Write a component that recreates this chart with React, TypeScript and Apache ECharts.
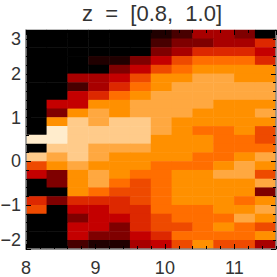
import React, { useEffect, useRef } from "react";
import * as echarts from "echarts";

const titleText = "z  =  [0.8,  1.0]";
const xBins = ["8.0","8.3","8.6","8.9","9.2","9.5","9.8","10.1","10.4","10.7","11.0","11.3"];
const yBins = Array.from({ length: 25 }, (_, i) => (2.8 - i * 0.2).toFixed(1));
const palette = ["#000000","#200000","#480000","#7f0000","#a80000","#c40000","#dd2800","#ee4a00","#ff6e00","#ff9000","#ffa840","#ffcb8a","#ffeccc"];
const yLabels: Record<string, string> = { "-2": "\u22122", "-1": "\u22121", "0": "0", "1": "1", "2": "2", "3": "3" };

// colour level per cell, top row first
const levels = [
  [0,0,0,0,0,0,1,2,4,4,3,0],
  [0,0,0,0,0,0,2,3,3,4,4,6],
  [0,0,0,0,0,0,3,4,6,6,6,5],
  [0,0,0,1,1,3,5,7,8,8,8,6],
  [0,0,0,0,3,5,7,8,9,9,9,9],
  [0,0,4,4,5,7,9,9,10,10,9,9],
  [0,0,2,4,6,8,9,10,10,10,10,10],
  [0,0,5,6,8,9,10,10,10,10,10,10],
  [0,5,5,9,9,10,10,10,10,9,9,9],
  [0,3,9,10,9,10,10,10,9,9,9,10],
  [0,9,11,10,11,11,10,9,9,9,9,9],
  [0,12,11,11,11,11,10,9,8,8,9,7],
  [12,12,11,11,11,11,9,9,9,8,8,7],
  [0,11,11,10,10,10,9,9,9,8,8,8],
  [11,10,11,10,9,9,9,9,8,8,9,10],
  [7,9,10,9,9,9,8,8,8,9,10,9],
  [5,3,9,10,9,8,8,9,9,10,10,7],
  [0,3,9,10,8,7,8,9,9,9,9,10],
  [0,0,9,8,7,7,8,9,9,9,9,3],
  [6,3,6,6,6,7,8,9,9,9,8,9],
  [7,0,5,5,6,6,8,8,8,9,9,10],
  [0,0,3,5,5,6,7,8,8,8,10,9],
  [0,0,5,5,3,6,7,7,8,9,8,7],
  [0,0,5,3,3,5,6,8,8,8,8,9],
  [0,0,2,1,1,4,5,7,9,7,7,4],
];

const font = "'Liberation Sans', sans-serif";
const ink = "#333333";
const edge = "#888888";

export default function App() {
  const ref = useRef<HTMLDivElement>(null);
  useEffect(() => {
    const chart = echarts.init(ref.current!, null, { renderer: "svg" });
    const data: number[][] = [];
    levels.forEach((row, r) => row.forEach((v, c) => data.push([c, 24 - r, v])));
    const xRange = { type: "value", min: 8, max: 11.6, z: 5 };
    const hidden = { show: false };
    const tick = (length: number) => ({ show: true, inside: true, length, lineStyle: { color: "#000", width: 1 } });
    const line = { show: true, onZero: false, lineStyle: { color: edge, width: 1.5 } };
    const yAxisBase = {
      type: "value", min: -2, max: 3, interval: 1, z: 5, splitLine: hidden,
      axisLine: line, axisTick: tick(5),
      minorTick: { show: true, splitNumber: 5, length: 3, lineStyle: { color: "#000", width: 1 } },
    };
    chart.setOption({
      animation: false,
      title: {
        text: titleText, left: 147, top: -3, textAlign: "center",
        textStyle: { fontFamily: font, fontSize: 22, fontWeight: "normal", color: ink },
      },
      grid: { left: 26, right: 1, top: 30, bottom: 28, outerBoundsMode: "none" },
      visualMap: { show: false, min: 0, max: 12, dimension: 2, seriesIndex: 0, inRange: { color: palette } },
      xAxis: [
        { type: "category", data: xBins, show: false },
        { ...xRange, position: "bottom", interval: 1, splitLine: hidden, axisLine: line, axisTick: tick(5),
          axisLabel: { show: true, margin: 10, showMaxLabel: false, hideOverlap: false, fontFamily: font, fontSize: 18, color: ink } },
        { ...xRange, position: "top", interval: 1, splitLine: hidden, axisLine: { ...line, show: false }, axisTick: tick(5), axisLabel: hidden },
        { ...xRange, position: "bottom", interval: 0.2, splitLine: hidden, axisLine: { ...line, show: false }, axisTick: tick(3), axisLabel: hidden },
        { ...xRange, position: "top", interval: 0.2, splitLine: hidden, axisLine: { ...line, show: false }, axisTick: tick(3), axisLabel: hidden },
      ],
      yAxis: [
        { type: "category", data: [...yBins].reverse(), show: false },
        { ...yAxisBase, position: "left",
          axisLabel: {
            show: true, margin: 5, fontFamily: font, fontSize: 18, color: ink,
            verticalAlignMinLabel: "bottom", verticalAlignMaxLabel: "top",
            formatter: (v: number) => yLabels[String(v)] ?? String(v),
          } },
        { ...yAxisBase, position: "right", axisLabel: hidden },
      ],
      series: [{
        type: "heatmap", data, xAxisIndex: 0, yAxisIndex: 0,
        itemStyle: { borderWidth: 0 }, emphasis: { disabled: true },
      }],
    });
    return () => chart.dispose();
  }, []);
  return <div ref={ref} style={{ position: "absolute", left: 0, top: 0, width: 277, height: 277 }} />;
}
